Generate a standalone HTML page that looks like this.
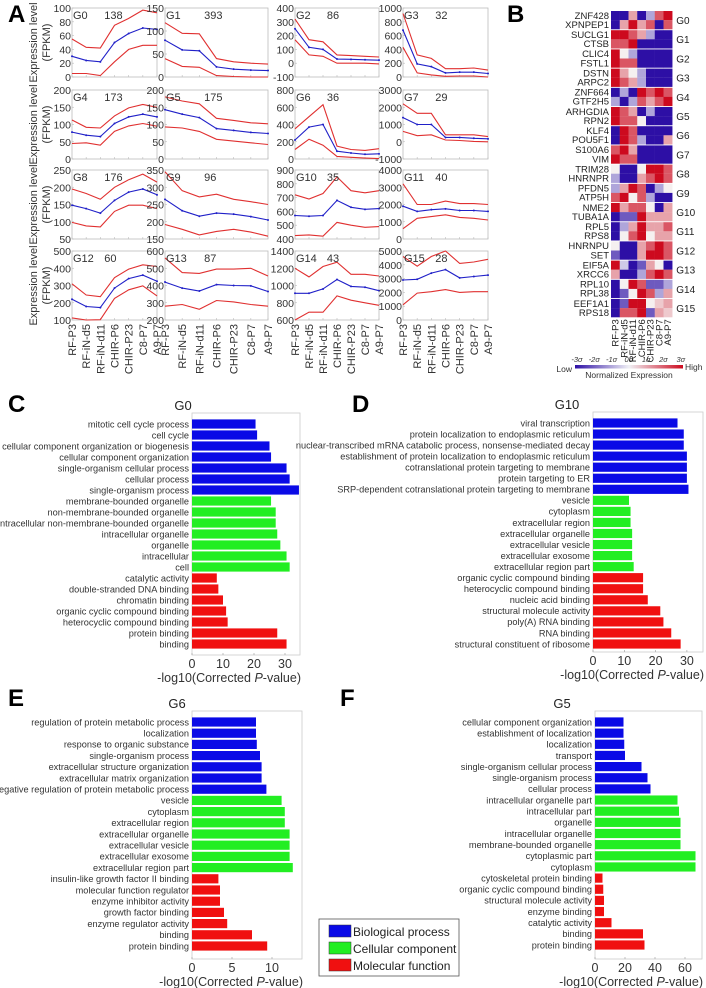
<!DOCTYPE html>
<html><head><meta charset="utf-8"><style>
html,body{margin:0;padding:0;background:#fff;}
svg{display:block;font-family:"Liberation Sans",Arial,sans-serif;}
</style></head><body>
<svg id="fig" width="706" height="988" viewBox="0 0 706 988" xmlns="http://www.w3.org/2000/svg"></svg>
<script>
// ---------- Panel A data ----------
const stages = ["RF-P3","RF-iN-d5","RF-iN-d11","CHIR-P6","CHIR-P23","C8-P7","A9-P7"];
const groupNames = ["G0","G1","G2","G3","G4","G5","G6","G7","G8","G9","G10","G11","G12","G13","G14","G15"];
const groupCounts = [138,393,86,32,173,175,36,29,176,96,35,40,60,87,43,28];
const yMin = [0,0,-100,0,0,0,0,-1000,50,150,400,0,100,200,600,0];
const yMax = [100,150,400,1000,200,200,800,3000,250,350,900,4000,500,600,1400,5000];
const yStep = [20,50,100,200,50,50,200,1000,50,50,100,1000,100,100,200,1000];
const upperVals = [
 [55,43,42,75,85,97,93],[118,95,94,40,33,30,28],[320,170,155,60,55,50,45],[920,320,270,120,120,130,100],
 [113,92,90,125,148,158,150],[180,168,160,118,112,105,102],[350,490,630,150,110,100,120],[2200,1650,1650,400,400,400,300],
 [195,182,165,200,222,238,215],[345,290,272,280,265,258,250],[720,690,730,850,750,735,750],[3200,2000,2000,2200,2050,2050,2000],
 [310,245,235,345,395,420,410],[560,475,470,495,495,500,455],[1200,1100,1220,1270,1130,1130,1110],[4600,3900,4600,5000,4100,4200,4400]];
const meanVals = [
 [30,24,22,50,63,71,69],[80,59,57,22,17,15,14],[250,115,100,30,28,25,22],[680,190,150,60,70,70,50],
 [78,69,65,103,122,130,122],[143,130,120,88,83,77,74],[220,370,400,90,70,55,60],[1400,1000,1000,250,250,200,170],
 [148,138,125,162,186,195,178],[265,232,216,225,222,215,205],[570,565,570,680,630,615,620],[1900,1600,1700,1750,1650,1650,1600],
 [220,178,172,285,340,360,325],[420,385,368,405,400,398,365],[910,910,960,1070,990,980,940],[2900,2950,3400,3650,3050,3150,3250]];
const lowerVals = [
 [5,5,2,22,40,46,46],[40,23,21,3,1,0,0],[170,60,50,0,0,0,-5],[430,60,30,10,15,15,0],
 [45,47,40,80,96,103,95],[93,90,80,57,52,47,42],[110,230,160,30,20,10,5],[600,350,400,100,70,20,0],
 [98,88,85,130,148,148,138],[192,178,162,172,178,170,158],[425,430,420,520,500,485,490],[600,1200,1300,1400,1250,1200,1100],
 [112,100,102,225,275,298,240],[280,290,262,313,305,290,280],[600,690,690,880,830,800,770],[1100,1950,2050,2200,2000,2050,2050]];

// ---------- Panel B data ----------
const geneNames = ["ZNF428","XPNPEP1","SUCLG1","CTSB","CLIC4","FSTL1","DSTN","ARPC2","ZNF664","GTF2H5","ARHGDIA","RPN2","KLF4","POU5F1","S100A6","VIM",
 "TRIM28","HNRNPR","PFDN5","ATP5H","NME2","TUBA1A","RPL5","RPS8","HNRNPU","SET","EIF5A","XRCC6","RPL10","RPL38","EEF1A1","RPS18"];
const heatVals = [
 [-3,-3,1,-3,-1,2,3],[-3,1,3,1,2,-3,2],[3,3,2,1,-1,-3,-3],[2,2,3,-3,-3,-3,-3],
 [3,0,-1,-3,-3,-3,-3],[3,2,2,-3,-3,-3,-3],[3,1,0,-1,-3,-3,-3],[3,2,1,-1,-3,-3,-3],
 [-3,-1,-3,3,2,3,2],[-1,-3,-1,2,1,2,3],[3,2,1,-3,-1,-3,-3],[3,2,2,0,-3,-3,-3],
 [-3,3,2,-3,-3,-3,-3],[-3,3,2,-1,-3,-3,1],[2,3,1,-3,-3,-3,-3],[3,2,2,-3,-3,-3,-3],
 [0,-3,-3,0,3,3,2],[-1,-3,-3,1,2,3,2],[-1,1,3,2,-3,-1,0],[2,3,0,2,-1,-3,-3],
 [3,1,2,2,0,-3,1],[-3,-2,-2,3,1,1,1],[-3,-1,1,3,1,1,2],[-3,0,2,3,0,1,1],
 [0,-3,-3,1,2,3,2],[-2,-3,-3,1,3,3,2],[3,-0.5,-3,-2,1,0,-3],[1,-3,-3,-1,2,3,2],
 [-3,0,3,2,-2,-2,-1],[-3,-2,0,3,2,-1,1],[-3,-2,3,3,0,0.5,1],[-3,2,2,3,-2,1,0.5]];
const sigmaLabels = ["-3σ","-2σ","-1σ","0σ","1σ","2σ","3σ"];

// ---------- Bar chart data ----------
const labelsC = ["mitotic cell cycle process","cell cycle","cellular component organization or biogenesis","cellular component organization","single-organism cellular process","cellular process","single-organism process",
 "membrane-bounded organelle","non-membrane-bounded organelle","intracellular non-membrane-bounded organelle","intracellular organelle","organelle","intracellular","cell",
 "catalytic activity","double-stranded DNA binding","chromatin binding","organic cyclic compound binding","heterocyclic compound binding","protein binding","binding"];
const valuesC = [20.5,21,25,25.5,30.5,31.5,34.5,25.5,27,27,27.5,28.5,30.5,31.5,8,8.5,10,11,11.5,27.5,30.5];
const ticksC = [0,10,20,30];
const labelsD = ["viral transcription","protein localization to endoplasmic reticulum","nuclear-transcribed mRNA catabolic process, nonsense-mediated decay","establishment of protein localization to endoplasmic reticulum","cotranslational protein targeting to membrane","protein targeting to ER","SRP-dependent cotranslational protein targeting to membrane",
 "vesicle","cytoplasm","extracellular region","extracellular organelle","extracellular vesicle","extracellular exosome","extracellular region part",
 "organic cyclic compound binding","heterocyclic compound binding","nucleic acid binding","structural molecule activity","poly(A) RNA binding","RNA binding","structural constituent of ribosome"];
const valuesD = [27,29,29,30,30,30,30.5,11.5,12,12,12.5,12.5,12.5,13,16,16,17.5,21.5,22.5,25,28];
const ticksD = [0,10,20,30];
const labelsE = ["regulation of protein metabolic process","localization","response to organic substance","single-organism process","extracellular structure organization","extracellular matrix organization","negative regulation of protein metabolic process",
 "vesicle","cytoplasm","extracellular region","extracellular organelle","extracellular vesicle","extracellular exosome","extracellular region part",
 "insulin-like growth factor II binding","molecular function regulator","enzyme inhibitor activity","growth factor binding","enzyme regulator activity","binding","protein binding"];
const valuesE = [8,8,8.1,8.5,8.7,8.7,9.3,11.2,11.6,11.6,12.2,12.2,12.2,12.6,3.3,3.5,3.5,4,4.4,7.5,9.4];
const ticksE = [0,5,10];
const labelsF = ["cellular component organization","establishment of localization","localization","transport","single-organism cellular process","single-organism process","cellular process",
 "intracellular organelle part","intracellular part","organelle","intracellular organelle","membrane-bounded organelle","cytoplasmic part","cytoplasm",
 "cytoskeletal protein binding","organic cyclic compound binding","structural molecule activity","enzyme binding","catalytic activity","binding","protein binding"];
const valuesF = [19,19,19.5,20,31,35,37,55,56,57,57,57,67,67,5,5.5,6,6,11,32,33];
const ticksF = [0,20,40,60];

const svg = document.getElementById('fig');
const NS = 'http://www.w3.org/2000/svg';
function mk(parent, tag, attrs, text){
  const e = document.createElementNS(NS, tag);
  for (const k in attrs) e.setAttribute(k, attrs[k]);
  if (text !== undefined) e.textContent = text;
  parent.appendChild(e);
  return e;
}
function grp(name){
  const g = mk(svg,'g',{});
  
  
  return g;
}

// panel letters
const letters = [["A",8,22],["B",507,22],["C",8,412],["D",352,412],["E",8,706],["F",340,706]];
letters.forEach(l=>{
  const t = mk(svg,'text',{x:l[1],y:l[2],'font-size':24,'font-weight':'bold',fill:'#000'},l[0]);
  
  
});

// ---------- Panel A ----------
const colX = [72,165,295,403], colW = [85,103,84,85], rowY = [8,90,170,251], PH = 69;
for (let r=0;r<4;r++){
  const cy = rowY[r]+PH/2;
  const t = mk(svg,'text',{x:0,y:0,'font-size':11,fill:'#333','text-anchor':'middle',transform:`translate(37,${cy}) rotate(-90)`});
  mk(t,'tspan',{x:0,dy:0},'Expression level');
  mk(t,'tspan',{x:0,dy:13},'(FPKM)');
  
  
}
for (let i=0;i<16;i++){
  const c=i%4, r=Math.floor(i/4);
  const px=colX[c], pw=colW[c], py=rowY[r];
  const g = grp('line-panel-'+groupNames[i].toLowerCase());
  const X = j => px + pw*j/6;
  const Y = v => py + PH - (v - yMin[i])/(yMax[i]-yMin[i])*PH;
  const fr = mk(g,'rect',{x:px,y:py,width:pw,height:PH,fill:'#fff',stroke:'#bbb','stroke-width':0.8});
  
  
  for (let v=yMin[i]; v<=yMax[i]+1e-9; v+=yStep[i]){
    const tl = mk(g,'text',{x:px-1,y:Y(v)+4,'font-size':10.5,fill:'#333','text-anchor':'end'},String(v));
    
    
    mk(g,'line',{x1:px,x2:px+2,y1:Y(v),y2:Y(v),stroke:'#bbb','stroke-width':0.6});
  }
  for (let j=0;j<7;j++) mk(g,'line',{x1:X(j),x2:X(j),y1:py+PH,y2:py+PH-2,stroke:'#bbb','stroke-width':0.6});
  const series = [[upperVals[i],'#e03030','upper-bound-line'],[lowerVals[i],'#e03030','lower-bound-line'],[meanVals[i],'#2020c8','mean-line']];
  series.forEach(s=>{
    const pts = s[0].map((v,j)=>X(j).toFixed(1)+','+Y(v).toFixed(1)).join(' ');
    const pl = mk(g,'polyline',{points:pts,fill:'none',stroke:s[1],'stroke-width':1.1});
    
    
  });
  meanVals[i].forEach((v,j)=>{
    const d = mk(g,'circle',{cx:X(j),cy:Y(v),r:1,fill:'#2020c8'});
    
    
  });
  const gl = mk(g,'text',{x:px+1,y:py+11,'font-size':11,fill:'#333'},groupNames[i]);
  
  
  const cl = mk(g,'text',{x:px+pw*0.38,y:py+11,'font-size':11,fill:'#333'},String(groupCounts[i]));
  
  
  if (r===3){
    stages.forEach((s,j)=>{
      const xt = mk(g,'text',{x:0,y:0,'font-size':11,fill:'#333','text-anchor':'end',transform:`translate(${X(j)+4},${py+PH+4}) rotate(-90)`},s);
      
      
    });
  }
}

// ---------- Panel B heatmap ----------
const gB = grp('heatmap');
const HX = 611, CW = 8.75, RH = 9.1, GH = 19.2, HY = 11;
function heatColor(v){
  const t = Math.min(1, Math.abs(v)/3);
  let r,g,b;
  if (v<0){ r=240-(240-45)*t; g=240-(240-15)*t; b=245-(245-165)*t; }
  else { r=245-(245-205)*t; g=240-(240-10)*t; b=240-(240-30)*t; }
  return `rgb(${r|0},${g|0},${b|0})`;
}
heatVals.forEach((row,k)=>{
  const gi = Math.floor(k/2), kk = k%2;
  const y = HY + gi*GH + kk*RH;
  row.forEach((v,c)=>{
    const cell = mk(gB,'rect',{x:HX+c*CW,y:y,width:CW+0.2,height:RH+0.1,fill:heatColor(v)});
    
    
  });
  const gn = mk(gB,'text',{x:HX-2,y:y+7.8,'font-size':9.5,fill:'#222','text-anchor':'end'},geneNames[k]);
  
  
});
groupNames.forEach((n,gi)=>{
  const t = mk(gB,'text',{x:HX+7*CW+4,y:HY+gi*GH+13,'font-size':10,fill:'#222'},n);
  
  
});
stages.forEach((s,c)=>{
  const t = mk(gB,'text',{x:0,y:0,'font-size':9.5,fill:'#222','text-anchor':'end',transform:`translate(${HX+c*CW+CW/2+3.3},${HY+16*GH+1}) rotate(-90)`},s);
  
  
});
const defs = mk(svg,'defs',{});
const lg = mk(defs,'linearGradient',{id:'cbar',x1:0,x2:1,y1:0,y2:0});
mk(lg,'stop',{offset:'0','stop-color':'rgb(45,15,165)'});
mk(lg,'stop',{offset:'0.5','stop-color':'rgb(240,240,245)'});
mk(lg,'stop',{offset:'1','stop-color':'rgb(205,10,30)'});
const cb = mk(gB,'rect',{x:575,y:365,width:108,height:3.5,fill:'url(#cbar)'});


sigmaLabels.forEach((s,i)=>{
  const t = mk(gB,'text',{x:577+i*17.3,y:362,'font-size':7.5,fill:'#333','text-anchor':'middle','font-style':'italic'},s);
  
  
});
const low = mk(gB,'text',{x:572,y:372,'font-size':8.5,fill:'#333','text-anchor':'end'},'Low');


const high = mk(gB,'text',{x:685,y:370,'font-size':8.5,fill:'#333'},'High');


const ne = mk(gB,'text',{x:629,y:378,'font-size':8.5,fill:'#333','text-anchor':'middle'},'Normalized Expression');



// ---------- Bar charts ----------
function barChart(name, title, titleX, x0, ppu, right, top, bottom, first, step, labels, values, ticks){
  const g = grp(name);
  const fr = mk(g,'rect',{x:x0,y:top,width:right-x0,height:bottom-top,fill:'#fff',stroke:'#ccc','stroke-width':0.8});
  
  
  const X = v => x0 + v*ppu;
  const colors = ['#0a0ae6','#22ee22','#f01010'];
  values.forEach((v,i)=>{
    const y = first + i*step;
    const b = mk(g,'rect',{x:x0,y:y-4.6,width:X(v)-x0,height:9.2,fill:colors[Math.floor(i/7)]});
    
    
    const l = mk(g,'text',{x:x0-3,y:y+3.3,'font-size':9.2,fill:'#333','text-anchor':'end'},labels[i]);
    
    
  });
  ticks.forEach(t=>{
    mk(g,'line',{x1:X(t),x2:X(t),y1:bottom,y2:bottom-2,stroke:'#999','stroke-width':0.6});
    const tl = mk(g,'text',{x:X(t),y:bottom+13,'font-size':12.5,fill:'#333','text-anchor':'middle'},String(t));
    
    
  });
  const at = mk(g,'text',{x:right+1,y:bottom+27,'font-size':12.5,fill:'#333','text-anchor':'end'});
  mk(at,'tspan',{},'-log10(Corrected ');
  mk(at,'tspan',{'font-style':'italic'},'P');
  mk(at,'tspan',{},'-value)');
  
  
  const tt = mk(g,'text',{x:titleX,y:top-3,'font-size':13,fill:'#222','text-anchor':'middle'},title);
  
  
}
barChart('bar-chart-g0','G0',183,192,3.1,300,413,655,424,11,labelsC,valuesC,ticksC);
barChart('bar-chart-g10','G10',567,593,3.13,703,412,652,423,11.05,labelsD,valuesD,ticksD);
barChart('bar-chart-g6','G6',177,192,8.0,302,711,959,722,11.2,labelsE,valuesE,ticksE);
barChart('bar-chart-g5','G5',562,595,1.5,702,711,959,722,11.15,labelsF,valuesF,ticksF);

// legend
const gL = grp('legend');
mk(gL,'rect',{x:319,y:919,width:140,height:57,fill:'#fff',stroke:'#555','stroke-width':0.8});
const legItems = [['Biological process','#0a0ae6'],['Cellular component','#22ee22'],['Molecular function','#f01010']];
legItems.forEach((it,i)=>{
  const y = 925 + i*17;
  const sw = mk(gL,'rect',{x:329,y:y,width:22,height:12,fill:it[1],stroke:'#333','stroke-width':0.5});
  
  
  const t = mk(gL,'text',{x:353,y:y+11,'font-size':12,fill:'#222'},it[0]);
  
  
});
</script>
</body></html>
